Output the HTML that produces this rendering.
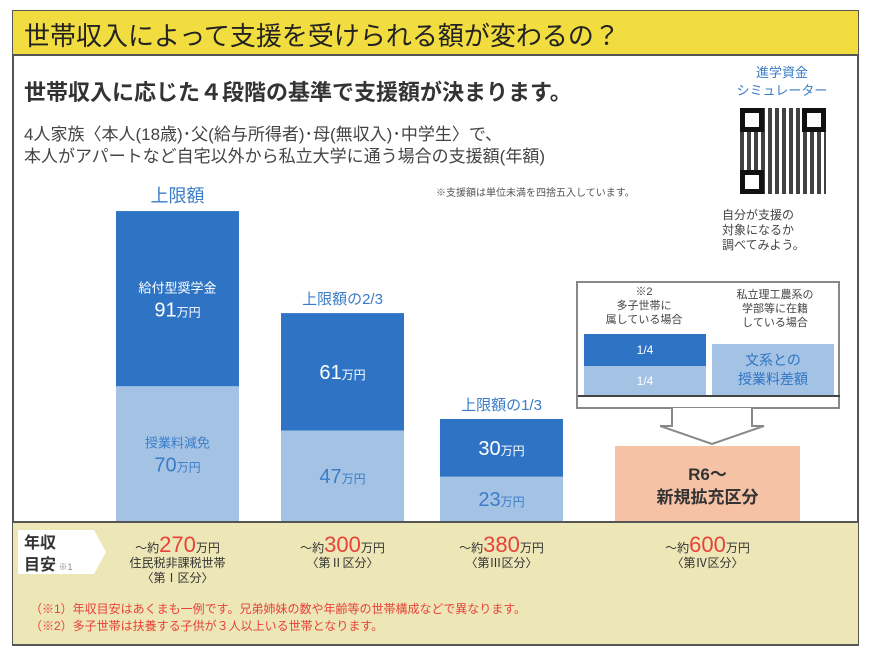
<!DOCTYPE html>
<html><head><meta charset="utf-8"><style>
*{margin:0;padding:0;box-sizing:border-box}
body{width:870px;height:654px;background:#fff;position:relative;overflow:hidden;font-family:"Liberation Sans","Noto Sans CJK JP",sans-serif;color:#333}
.a{position:absolute;white-space:nowrap}
.c{text-align:center}
</style></head><body>
<div class="a" style="left:12px;top:10px;width:847px;height:636px;border:2px solid #555;"></div>
<div class="a" style="left:13px;top:11px;width:845px;height:45px;background:#f1dd3f;border-bottom:2px solid #555;"></div>
<div class="a" style="left:24px;top:16px;font-size:26px;color:#222">世帯収入によって支援を受けられる額が変わるの？</div>
<div class="a" style="left:24px;top:75px;font-size:22px;font-weight:bold;color:#333">世帯収入に応じた４段階の基準で支援額が決まります。</div>
<div class="a" style="left:24px;top:124px;font-size:17px;line-height:22px;color:#444">4人家族〈本人(18歳)･父(給与所得者)･母(無収入)･中学生〉で、<br>本人がアパートなど自宅以外から私立大学に通う場合の支援額(年額)</div>
<div class="a" style="left:436px;top:184px;font-size:10px;color:#555">※支援額は単位未満を四捨五入しています。</div>
<div class="a c" style="left:722px;top:64px;width:120px;font-size:13px;line-height:18px;color:#3a7cc8">進学資金<br>シミュレーター</div>
<div class="a" style="left:740px;top:108px;width:86px;height:86px;background:repeating-linear-gradient(90deg,#222 0 4px,#fff 4px 7px),#222;opacity:.85"></div>
<div class="a" style="left:740px;top:108px;width:24px;height:24px;border:5px solid #111;background:#fff"></div>
<div class="a" style="left:802px;top:108px;width:24px;height:24px;border:5px solid #111;background:#fff"></div>
<div class="a" style="left:740px;top:170px;width:24px;height:24px;border:5px solid #111;background:#fff"></div>
<div class="a" style="left:722px;top:208px;font-size:12px;line-height:15px;color:#444">自分が支援の<br>対象になるか<br>調べてみよう。</div>

<svg class="a" style="left:0;top:0" width="870" height="654" id="chart"></svg>

<div class="a" style="left:576px;top:281px;width:264px;height:128px;border:2px solid #888;"></div>
<div class="a c" style="left:582px;top:285px;width:124px;font-size:11px;line-height:14px;color:#444">※2<br>多子世帯に<br>属している場合</div>
<div class="a c" style="left:712px;top:288px;width:126px;font-size:11px;line-height:14px;color:#444">私立理工農系の<br>学部等に在籍<br>している場合</div>
<div class="a" style="left:584px;top:334px;width:122px;height:32px;background:#2f74c4;color:#fff;font-size:12px;text-align:center;line-height:32px">1/4</div>
<div class="a" style="left:584px;top:366px;width:122px;height:30px;background:#a4c3e4;color:#fff;font-size:12px;text-align:center;line-height:30px">1/4</div>
<div class="a c" style="left:712px;top:344px;width:122px;height:52px;background:#a4c3e4;color:#2f74c4;font-size:14px;line-height:19px;padding-top:7px">文系との<br>授業料差額</div>
<div class="a" style="left:578px;top:395px;width:262px;height:2px;background:#444"></div>
<svg class="a" style="left:660px;top:408px" width="120" height="40"><path d="M12 0V18H0L52 36L104 18H92V0" fill="#fff" stroke="#888" stroke-width="2"/></svg>
<div class="a c" style="left:615px;top:463px;width:185px;font-size:17px;line-height:23px;font-weight:bold;color:#333">R6～<br>新規拡充区分</div>

<div class="a" style="left:13px;top:521px;width:845px;height:123px;background:#ede6b6;border-top:2px solid #555"></div>
<svg class="a" style="left:18px;top:530px" width="90" height="50"><path d="M0 0H76L88 22L76 44H0Z" fill="#fff"/></svg>
<div class="a" style="left:24px;top:533px;font-size:16px;line-height:22px;font-weight:bold;color:#333">年収<br>目安<span style="font-size:9px;font-weight:normal;color:#888"> ※1</span></div>
<div class="a c" style="left:110px;top:537px;width:135px;font-size:12px;line-height:15px;color:#333">～約<span style="font-size:22px;color:#e8423a">270</span>万円<br>住民税非課税世帯<br>〈第Ⅰ区分〉</div>
<div class="a c" style="left:275px;top:537px;width:135px;font-size:12px;line-height:15px;color:#333">～約<span style="font-size:22px;color:#e8423a">300</span>万円<br>〈第Ⅱ区分〉</div>
<div class="a c" style="left:434px;top:537px;width:135px;font-size:12px;line-height:15px;color:#333">～約<span style="font-size:22px;color:#e8423a">380</span>万円<br>〈第Ⅲ区分〉</div>
<div class="a c" style="left:640px;top:537px;width:135px;font-size:12px;line-height:15px;color:#333">～約<span style="font-size:22px;color:#e8423a">600</span>万円<br>〈第Ⅳ区分〉</div>
<div class="a" style="left:30px;top:601px;font-size:12px;line-height:17px;color:#e8423a">（※1）年収目安はあくまも一例です。兄弟姉妹の数や年齢等の世帯構成などで異なります。<br>（※2）多子世帯は扶養する子供が３人以上いる世帯となります。</div>

<script>
const categories=["第Ⅰ区分","第Ⅱ区分","第Ⅲ区分"];
const tuitionValues=[70,47,23];
const scholarshipValues=[91,61,30];
const headerLabels=["上限額","上限額の2/3","上限額の1/3"];
const base=521, k=1.925;
const xs=[116,281,440], w=123;
function y(v){return base-v*k;}
const svg=document.getElementById('chart');
const NS='http://www.w3.org/2000/svg';
function mk(t,a){const e=document.createElementNS(NS,t);for(const n in a)e.setAttribute(n,a[n]);svg.appendChild(e);return e;}
categories.forEach((c,i)=>{
  const t=tuitionValues[i], s=scholarshipValues[i], cx=xs[i]+w/2;
  const r1=mk('rect',{x:xs[i],y:y(t),width:w,height:t*k,fill:'#a4c3e4'});
  
  
  const r2=mk('rect',{x:xs[i],y:y(t+s),width:w,height:s*k,fill:'#2f74c4'});
  
  
  const h=mk('text',{x:cx,y:y(t+s)-9,'text-anchor':'middle','font-size':i==0?18:15,fill:'#3a7cc8'});
  h.textContent=headerLabels[i];
  
  
  const ls=mk('text',{x:cx,y:y(t+s/2)+(i==0?18:7),'text-anchor':'middle','font-size':20,fill:'#fff'});
  ls.innerHTML=s+'<tspan font-size="12">万円</tspan>';
  
  
  const lt=mk('text',{x:cx,y:y(t/2)+(i==0?18:7),'text-anchor':'middle','font-size':20,fill:'#3a7cc8'});
  lt.innerHTML=t+'<tspan font-size="12">万円</tspan>';
  
  
  if(i==0){
    const a=mk('text',{x:cx,y:y(t+s/2)-6,'text-anchor':'middle','font-size':13,fill:'#fff'});a.textContent='給付型奨学金';
    
    
    const b=mk('text',{x:cx,y:y(t/2)-6,'text-anchor':'middle','font-size':13,fill:'#3a7cc8'});b.textContent='授業料減免';
    
    
  }
});
const p=mk('rect',{x:615,y:446,width:185,height:75,fill:'#f5c2a6'});


</script>
</body></html>
